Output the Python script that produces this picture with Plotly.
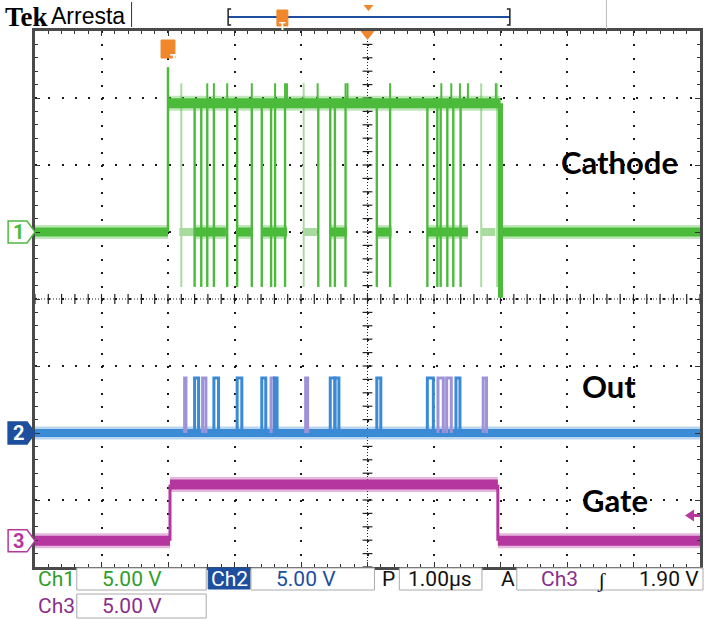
import numpy as np
import plotly.graph_objects as go

# ---------------- scope settings ----------------
VOLTS_PER_DIV = 5.0          # Ch1 / Ch2 / Ch3 : 5.00 V
TIME_PER_DIV_US = 1.0        # P 1.00 µs
N_HDIV, N_VDIV = 10, 8
TRIGGER_T = 2.0              # µs from left edge of screen
TRIGGER_LEVEL_V = 1.90       # A  Ch3  1.90 V

CH1_OFFSET_DIV = 1.0
CH2_OFFSET_DIV = -2.0
CH3_OFFSET_DIV = -3.61

# ---------------- Ch1 : Cathode ----------------
CH1_RISE_T, CH1_FALL_T = 2.00, 7.00
CH1_HIGH_V = 9.6
CH1_OVERSHOOT_V = 12.3
CH1_UNDERSHOOT_V = -4.9
CH1_GLITCH_LOW_V = -4.1
CH1_SPIKE_V = 11.1
CH1_DIP_START_T = [2.40, 3.04, 3.41, 4.44, 5.13, 5.90]
CH1_DIP_END_T = [2.87, 3.26, 3.79, 4.69, 5.36, 6.51]
CH1_FAINT_DIP_START_T = [2.17, 4.04, 6.71]
CH1_FAINT_DIP_END_T = [2.40, 4.24, 6.92]
CH1_GLITCH_T = [2.40, 2.50, 2.59, 2.69, 2.89, 3.04, 3.26, 3.41, 3.55, 3.61,
                3.76, 4.26, 4.44, 4.51, 4.67, 5.14, 5.34, 5.90, 6.05, 6.10,
                6.20, 6.29, 6.40]
CH1_FAINT_GLITCH_T = [2.20, 4.04, 6.71, 6.95]
CH1_SPIKE_T = [2.59, 2.69, 2.89, 3.26, 3.61, 3.76, 3.79, 4.25, 4.67, 4.70,
               5.34, 6.11, 6.26, 6.39, 6.51, 6.93]

# ---------------- Ch2 : Out ----------------
CH2_HIGH_V = 4.1
CH2_PULSE_START_T = [2.40, 2.69, 3.04, 3.41, 3.60, 4.44, 4.51, 5.14, 5.90, 6.33]
CH2_PULSE_END_T = [2.46, 2.76, 3.11, 3.47, 3.64, 4.51, 4.57, 5.20, 5.99, 6.39]
CH2_FAINT_PULSE_START_T = [2.25, 2.52, 3.55, 4.07, 6.06, 6.19, 6.74]
CH2_FAINT_PULSE_END_T = [2.27, 2.57, 3.60, 4.10, 6.14, 6.26, 6.79]

# ---------------- Ch3 : Gate ----------------
CH3_RISE_T, CH3_FALL_T = 2.03, 6.96
CH3_HIGH_V = 4.2

# ---------------- colours ----------------
GREEN = '#4cbb3c'
GREEN_FAINT = '#a8dc9f'
BLUE = '#3a8ad6'
LAVENDER = '#9f93d8'
MAGENTA = '#b5369f'
ORANGE = '#f0872a'
NAVY = '#1d4f9e'

# ---------------- helpers ----------------
def to_div(v, off):
    return off + v / VOLTS_PER_DIV

def hsegs(starts, ends, level, off):
    xs, ys = [], []
    for a, b in zip(starts, ends):
        xs += [a, b, None]
        ys += [to_div(level, off)] * 2 + [None]
    return xs, ys

def vsegs(ts, v0, v1, off):
    xs, ys = [], []
    for t in ts:
        xs += [t, t, None]
        ys += [to_div(v0, off), to_div(v1, off), None]
    return xs, ys

def pulses(starts, ends, high, off):
    xs, ys = [], []
    for a, b in zip(starts, ends):
        xs += [a, a, b, b, None]
        ys += [to_div(0, off), to_div(high, off), to_div(high, off), to_div(0, off), None]
    return xs, ys

# pixel -> paper coordinates (plot area 35..703 x 31..567)
L, R, T, B = 35, 703, 31, 567
def PX(px):
    return (px - L) / (R - L)
def PY(py):
    return (B - py) / (B - T)
def path(pts, close=True):
    s = 'M ' + ' L '.join(f'{PX(x):.5f},{PY(y):.5f}' for x, y in pts)
    return s + (' Z' if close else '')
def gnd_px(off):
    return 299 - off * 67

fig = go.Figure()

# ---- graticule centre cross ticks ----
yt = np.arange(-N_VDIV / 2, N_VDIV / 2 + 0.001, 0.2)
xt = np.arange(0, N_HDIV + 0.001, 0.2)
fig.add_trace(go.Scatter(x=[N_HDIV / 2] * len(yt), y=yt, mode='markers', hoverinfo='skip',
                         marker=dict(symbol='line-ew', size=7, line=dict(width=1.2, color='#222'))))
fig.add_trace(go.Scatter(x=xt, y=[0] * len(xt), mode='markers', hoverinfo='skip',
                         marker=dict(symbol='line-ns', size=7, line=dict(width=1.2, color='#222'))))

def thick(xs, ys, color, w):
    fig.add_trace(go.Scatter(x=xs, y=ys, mode='lines', hoverinfo='skip',
                             line=dict(color=color, width=w + 5), opacity=0.35))
    fig.add_trace(go.Scatter(x=xs, y=ys, mode='lines', hoverinfo='skip',
                             line=dict(color=color, width=w)))

def thin(xs, ys, color, w):
    fig.add_trace(go.Scatter(x=xs, y=ys, mode='lines', hoverinfo='skip',
                             line=dict(color=color, width=w)))

# ---- Ch3 Gate ----
x, y = hsegs([0, CH3_RISE_T, CH3_FALL_T], [CH3_RISE_T, CH3_FALL_T, N_HDIV],
             0, CH3_OFFSET_DIV)
y[3] = y[4] = to_div(CH3_HIGH_V, CH3_OFFSET_DIV)
thick(x, y, MAGENTA, 10)
x, y = vsegs([CH3_RISE_T, CH3_FALL_T], 0, CH3_HIGH_V, CH3_OFFSET_DIV)
thin(x, y, MAGENTA, 3)

# ---- Ch2 Out ----
x, y = hsegs([0], [N_HDIV], 0, CH2_OFFSET_DIV)
thick(x, y, BLUE, 8)
x, y = pulses(CH2_FAINT_PULSE_START_T, CH2_FAINT_PULSE_END_T, CH2_HIGH_V, CH2_OFFSET_DIV)
thin(x, y, LAVENDER, 3)
x, y = pulses(CH2_PULSE_START_T, CH2_PULSE_END_T, CH2_HIGH_V, CH2_OFFSET_DIV)
thin(x, y, BLUE, 3)

# ---- Ch1 Cathode ----
x, y = hsegs(CH1_FAINT_DIP_START_T, CH1_FAINT_DIP_END_T, 0, CH1_OFFSET_DIV)
thin(x, y, GREEN_FAINT, 8)
x, y = vsegs(CH1_FAINT_GLITCH_T, CH1_SPIKE_V, CH1_GLITCH_LOW_V, CH1_OFFSET_DIV)
thin(x, y, GREEN_FAINT, 2)
x, y = hsegs([0, CH1_FALL_T] + CH1_DIP_START_T, [CH1_RISE_T, N_HDIV] + CH1_DIP_END_T,
             0, CH1_OFFSET_DIV)
thick(x, y, GREEN, 9)
x, y = hsegs([CH1_RISE_T], [CH1_FALL_T], CH1_HIGH_V, CH1_OFFSET_DIV)
thick(x, y, GREEN, 10)
x, y = vsegs(CH1_GLITCH_T, CH1_HIGH_V, CH1_GLITCH_LOW_V, CH1_OFFSET_DIV)
thin(x, y, GREEN, 2.4)
x, y = vsegs(CH1_SPIKE_T, CH1_HIGH_V, CH1_SPIKE_V, CH1_OFFSET_DIV)
thin(x, y, GREEN, 2)
x, y = vsegs([CH1_RISE_T], 0, CH1_OVERSHOOT_V, CH1_OFFSET_DIV)
thin(x, y, GREEN, 2.5)
x, y = vsegs([CH1_FALL_T], CH1_HIGH_V, CH1_UNDERSHOOT_V, CH1_OFFSET_DIV)
thin(x, y, GREEN, 5)

shapes = []
annos = []

# centre dotted lines
shapes.append(dict(type='line', xref='x', yref='y', x0=N_HDIV / 2, x1=N_HDIV / 2,
                   y0=-N_VDIV / 2, y1=N_VDIV / 2, layer='below',
                   line=dict(color='#222', width=1, dash='1px,2px')))
shapes.append(dict(type='line', xref='x', yref='y', x0=0, x1=N_HDIV, y0=0, y1=0,
                   layer='below', line=dict(color='#222', width=1, dash='1px,2px')))

# ---- channel ground markers on the left ----
for label, off, edge, fill, txt in [('1', CH1_OFFSET_DIV, GREEN, 'white', GREEN),
                                    ('2', CH2_OFFSET_DIV, NAVY, NAVY, 'white'),
                                    ('3', CH3_OFFSET_DIV, MAGENTA, 'white', MAGENTA)]:
    g = gnd_px(off)
    shapes.append(dict(type='path', xref='paper', yref='paper',
                       path=path([(8, g - 11), (27, g - 11), (35, g), (27, g + 11), (8, g + 11)]),
                       fillcolor=fill, line=dict(color=edge, width=1.5)))
    annos.append(dict(text=label, x=PX(18), y=PY(g), xref='paper', yref='paper',
                      showarrow=False, xanchor='center', yanchor='middle',
                      font=dict(family='Roboto', size=20, color=txt, weight=700)))

# ---- trigger level arrow (right) ----
gl = gnd_px(CH3_OFFSET_DIV) - TRIGGER_LEVEL_V / VOLTS_PER_DIV * 67
shapes.append(dict(type='path', xref='paper', yref='paper',
                   path=path([(688, gl), (697, gl - 6), (697, gl - 1.5), (703, gl - 1.5),
                              (703, gl + 1.5), (697, gl + 1.5), (697, gl + 6)]),
                   fillcolor=MAGENTA, line=dict(width=0)))

# ---- trigger position markers ----
tx = L + TRIGGER_T / N_HDIV * (R - L)
shapes.append(dict(type='rect', xref='paper', yref='paper', x0=PX(tx - 7), x1=PX(tx + 7),
                   y0=PY(58), y1=PY(40), fillcolor=ORANGE, line=dict(color=ORANGE, width=1)))
annos.append(dict(text='T', x=PX(tx), y=PY(49), xref='paper', yref='paper', showarrow=False,
                  font=dict(family='Roboto', size=13, color='white', weight=700)))
cx = (L + R) / 2
shapes.append(dict(type='path', xref='paper', yref='paper',
                   path=path([(cx - 7, 31), (cx + 7, 31), (cx, 40)]),
                   fillcolor=ORANGE, line=dict(width=0)))

# ---- top bar ----
annos.append(dict(text='Tek', x=PX(3), y=PY(17), xref='paper', yref='paper', showarrow=False,
                  xanchor='left', yanchor='middle',
                  font=dict(family='Liberation Serif', size=27, color='black', weight=700)))
annos.append(dict(text='Arresta', x=PX(49), y=PY(16), xref='paper', yref='paper',
                  showarrow=False, xanchor='left', yanchor='middle',
                  font=dict(family='Liberation Sans', size=23, color='black')))
shapes.append(dict(type='line', xref='paper', yref='paper', x0=PX(132), x1=PX(132),
                   y0=PY(2), y1=PY(27), line=dict(color='#333', width=1)))
shapes.append(dict(type='line', xref='paper', yref='paper', x0=PX(609), x1=PX(609),
                   y0=PY(0), y1=PY(29), line=dict(color='#bbb', width=1)))
shapes.append(dict(type='line', xref='paper', yref='paper', x0=PX(229), x1=PX(512),
                   y0=PY(17), y1=PY(17), line=dict(color=NAVY, width=2)))
shapes.append(dict(type='path', xref='paper', yref='paper',
                   path=path([(232, 9), (229, 9), (229, 25), (232, 25)], close=False),
                   line=dict(color='#222', width=1.5)))
shapes.append(dict(type='path', xref='paper', yref='paper',
                   path=path([(509, 9), (512, 9), (512, 25), (509, 25)], close=False),
                   line=dict(color='#222', width=1.5)))
shapes.append(dict(type='rect', xref='paper', yref='paper', x0=PX(278), x1=PX(289),
                   y0=PY(26), y1=PY(10), fillcolor=ORANGE, line=dict(color=ORANGE, width=1)))
annos.append(dict(text='T', x=PX(283.5), y=PY(18), xref='paper', yref='paper', showarrow=False,
                  font=dict(family='Roboto', size=11, color='white', weight=700)))
shapes.append(dict(type='path', xref='paper', yref='paper',
                   path=path([(365, 5), (375, 5), (370, 11)]),
                   fillcolor=ORANGE, line=dict(width=0)))

# ---- bottom readouts ----
RO_FONT = 'Roboto'
def box(x0, x1, y0, y1, fill='white', edge='#aaa'):
    shapes.append(dict(type='rect', xref='paper', yref='paper', x0=PX(x0), x1=PX(x1),
                       y0=PY(y1), y1=PY(y0), fillcolor=fill, line=dict(color=edge, width=1)))
def txt(s, x, y, color, anchor='center', size=21):
    annos.append(dict(text=s, x=PX(x), y=PY(y), xref='paper', yref='paper', showarrow=False,
                      xanchor=anchor, yanchor='middle',
                      font=dict(family=RO_FONT, size=size, color=color)))

box(77, 207, 568, 590)
box(209, 251, 568, 589, fill=NAVY, edge=NAVY)
box(252, 376, 568, 590)
box(401, 484, 568, 590)
box(519, 706, 568, 590)
box(77, 207, 594, 618)
txt('Ch1', 36, 579, '#2e9e2a', 'left')
txt('5.00 V', 132, 579, '#2e9e2a')
txt('Ch2', 230, 579, 'white')
txt('5.00 V', 307, 579, NAVY)
txt('P', 390, 579, '#111')
txt('1.00µs', 442, 579, '#111')
txt('A', 510, 579, '#111')
txt('Ch3', 562, 579, '#8a2f8c')
txt('ʃ', 604, 579, '#111', size=22)
txt('1.90 V', 704, 579, '#111', 'right')
txt('Ch3', 36, 606, '#8a2f8c', 'left')
txt('5.00 V', 132, 606, '#8a2f8c')

# ---- signal names ----
for s, x0, y0 in [('Cathode', 561, 162), ('Out', 582, 386), ('Gate', 582, 500)]:
    annos.append(dict(text=s, x=PX(x0), y=PY(y0), xref='paper', yref='paper', showarrow=False,
                      xanchor='left', yanchor='middle',
                      font=dict(family='Lato', size=31, color='black', weight=700)))

axis_common = dict(showticklabels=False, showgrid=True, gridcolor='#1a1a1a', gridwidth=2,
                   zeroline=False, showline=True, linecolor='#4a4a4a', linewidth=3,
                   mirror='ticks', ticks='inside', ticklen=5, tickcolor='#333', tickwidth=1,
                   fixedrange=True)
fig.update_layout(
    width=707, height=620,
    margin=dict(l=L, r=707 - R, t=T, b=620 - B),
    paper_bgcolor='white', plot_bgcolor='white', showlegend=False,
    xaxis=dict(range=[0, N_HDIV], dtick=TIME_PER_DIV_US, tick0=0, griddash='2px,11.4px',
               minor=dict(dtick=0.2, ticks='inside', ticklen=3, tickcolor='#333', showgrid=False),
               **axis_common),
    yaxis=dict(range=[-N_VDIV / 2, N_VDIV / 2], dtick=1, tick0=0, griddash='2px,11.36px',
               minor=dict(dtick=0.2, ticks='inside', ticklen=3, tickcolor='#333', showgrid=False),
               **axis_common),
    shapes=shapes, annotations=annos,
)

fig.write_html('out.html', config={'displayModeBar': False},
               post_script="document.body.style.margin='0';document.body.style.overflow='hidden';")
